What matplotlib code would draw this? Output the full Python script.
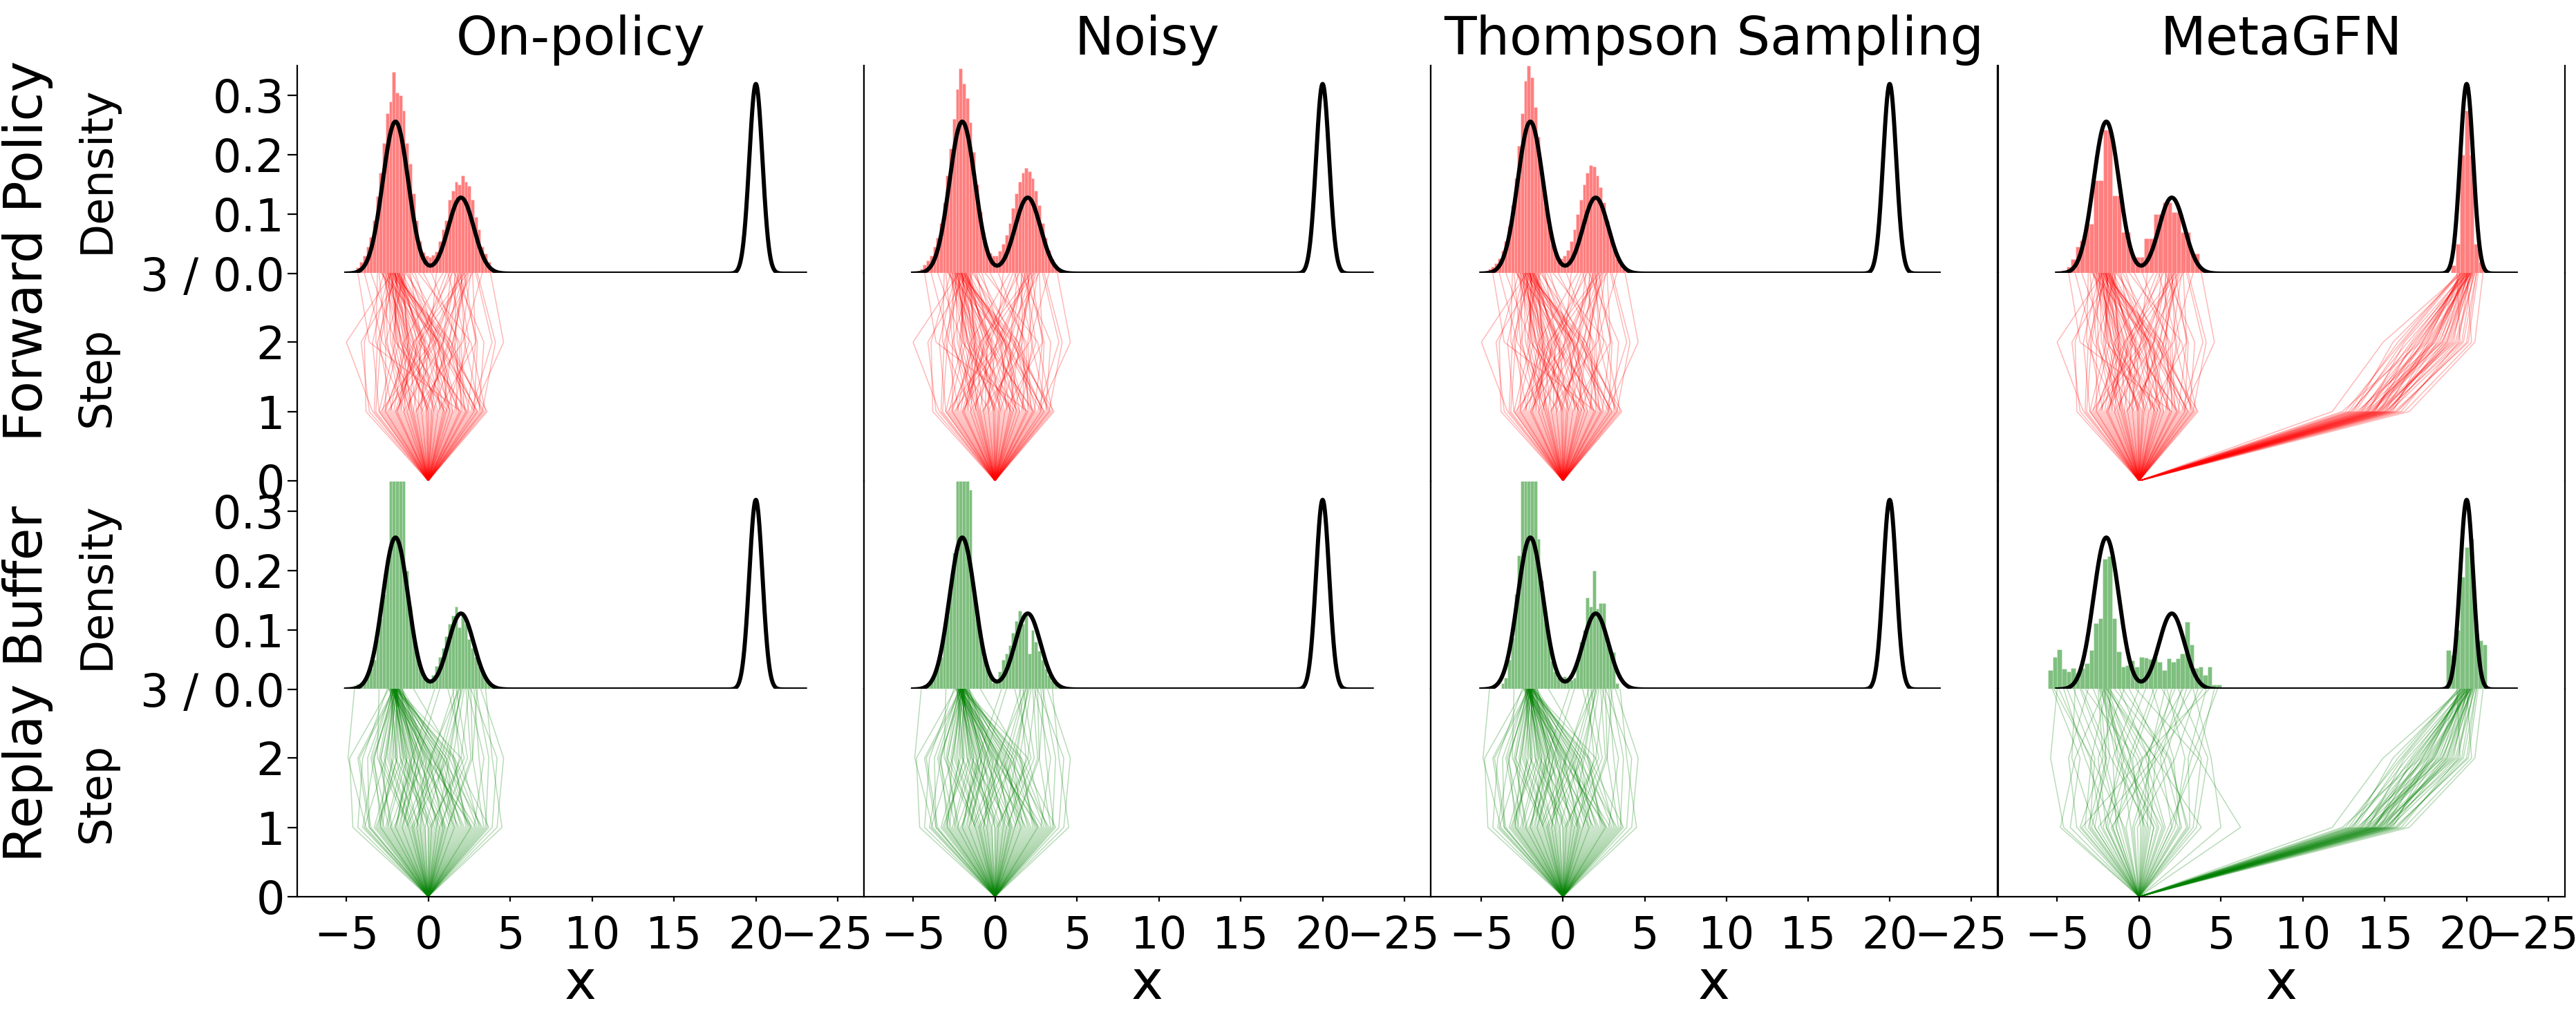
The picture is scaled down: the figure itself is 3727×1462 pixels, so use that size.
import matplotlib
matplotlib.use('Agg')
import matplotlib.pyplot as plt
import matplotlib.transforms as mtransforms
import numpy as np

COLUMNS = ['On-policy', 'Noisy', 'Thompson Sampling', 'MetaGFN']
ROWS = ['Forward Policy', 'Replay Buffer']

# target mixture drawn as the black curve
TARGET_MEANS = [-2.0, 2.0, 20.0]
TARGET_SDS = [0.78, 0.78, 0.40]
TARGET_WEIGHTS = [0.50, 0.25, 0.32]
TARGET_RANGE = (-5.0, 23.0)

X_TICKS = [-5, 0, 5, 10, 15, 20, 25]
X_TICK_LABELS = ['\u22125', '0', '5', '10', '15', '20', '\u221225']
XLIMS = [(-8.0, 26.6), (-8.0, 26.6), (-8.1, 26.6), (-8.6, 26.0)]

# ---- histograms (first bin edge, bin width, heights) ----
FINE_BIN_W = 0.2
fwd_onpolicy_start = -4.6
fwd_onpolicy = [0.003, 0.01, 0.02, 0.03, 0.045, 0.062, 0.09, 0.13, 0.17, 0.22,
                0.27, 0.29, 0.34, 0.305, 0.30, 0.275, 0.22, 0.185, 0.135, 0.09,
                0.055, 0.036, 0.03, 0.028, 0.031, 0.037, 0.055, 0.075, 0.09, 0.125,
                0.14, 0.155, 0.15, 0.165, 0.155, 0.148, 0.125, 0.095, 0.075, 0.045,
                0.034, 0.02, 0.01]
fwd_noisy_start = -5.0
fwd_noisy = [0.002, 0.004, 0.008, 0.015, 0.022, 0.03, 0.045, 0.06, 0.085, 0.12,
             0.165, 0.21, 0.26, 0.31, 0.345, 0.32, 0.295, 0.255, 0.205, 0.15,
             0.105, 0.07, 0.045, 0.035, 0.03, 0.03, 0.038, 0.05, 0.065, 0.085,
             0.11, 0.135, 0.155, 0.17, 0.178, 0.172, 0.16, 0.14, 0.115, 0.085,
             0.06, 0.04, 0.025, 0.015, 0.008, 0.004, 0.002]
fwd_thompson_start = -5.0
fwd_thompson = [0.003, 0.005, 0.008, 0.012, 0.018, 0.026, 0.038, 0.055, 0.08, 0.115,
                0.16, 0.215, 0.27, 0.325, 0.35, 0.33, 0.28, 0.23, 0.17, 0.12,
                0.08, 0.05, 0.035, 0.028, 0.026, 0.03, 0.04, 0.055, 0.075, 0.1,
                0.125, 0.15, 0.17, 0.182, 0.18, 0.165, 0.145, 0.12, 0.09, 0.065,
                0.042, 0.026, 0.015, 0.008, 0.004, 0.002, 0.001]
rep_onpolicy_start = -5.2
rep_onpolicy = [0.003, 0.003, 0.005, 0.007, 0.009, 0.012, 0.015, 0.024, 0.035, 0.05,
                0.085, 0.12, 0.16, 0.22, 0.45, 0.5, 0.48, 0.42, 0.36, 0.2,
                0.14, 0.09, 0.06, 0.04, 0.025, 0.015, 0.015, 0.025, 0.04, 0.055,
                0.07, 0.09, 0.11, 0.125, 0.14, 0.105, 0.125, 0.11, 0.085, 0.07,
                0.055, 0.04, 0.03, 0.02, 0.012, 0.006]
rep_noisy_start = -5.2
rep_noisy = [0.002, 0.003, 0.004, 0.006, 0.008, 0.011, 0.016, 0.025, 0.038, 0.055,
             0.09, 0.125, 0.17, 0.23, 0.46, 0.52, 0.47, 0.40, 0.336, 0.17,
             0.12, 0.085, 0.055, 0.035, 0.022, 0.012, 0.015, 0.03, 0.05, 0.06,
             0.075, 0.095, 0.115, 0.133, 0.11, 0.124, 0.061, 0.1, 0.08, 0.065,
             0.05, 0.035, 0.025, 0.015, 0.009, 0.005]
rep_thompson_start = -3.8
rep_thompson = [0.01, 0.02, 0.05, 0.087, 0.16, 0.225, 0.45, 0.5, 0.47, 0.44,
                0.4, 0.253, 0.184, 0.12, 0.087, 0.048, 0.03, 0.02, 0.018, 0.022,
                0.02, 0.016, 0.02, 0.05, 0.08, 0.1, 0.155, 0.14, 0.2, 0.136,
                0.145, 0.145, 0.087, 0.063, 0.063, 0.01]

META_FWD_BIN_W = 0.28
meta_fwd_left_start = -5.0
meta_fwd_left = [0.003, 0.006, 0.012, 0.025, 0.045, 0.056, 0.084, 0.084, 0.157, 0.157,
                 0.242, 0.242, 0.131, 0.131, 0.07, 0.07, 0.031, 0.028, 0.028, 0.059,
                 0.059, 0.10, 0.10, 0.12, 0.12, 0.104, 0.104, 0.07, 0.07, 0.034,
                 0.034, 0.008, 0.004]
meta_fwd_right_start = 19.04
meta_fwd_right = [0.014, 0.05, 0.2, 0.274, 0.2, 0.05, 0.02]

META_REP_BIN_W = 0.278
meta_rep_left_start = -5.55
meta_rep_left = [0.032, 0.055, 0.068, 0.035, 0.030, 0.036, 0.028, 0.036, 0.044, 0.066,
                 0.112, 0.12, 0.22, 0.224, 0.12, 0.064, 0.038, 0.041, 0.049, 0.038,
                 0.055, 0.053, 0.051, 0.055, 0.047, 0.032, 0.052, 0.047, 0.052, 0.061,
                 0.114, 0.076, 0.036, 0.038, 0.025, 0.038, 0.008, 0.008]
meta_rep_right_start = 18.75
meta_rep_right = [0.066, 0.058, 0.10, 0.19, 0.24, 0.254, 0.11, 0.083, 0.076]

# ---- sampled trajectories: x after step 1, 2, 3 (all start at x=0) ----
fwd_step1 = [-3.2, -2.5, -1.8, -1.1, -0.4, 0.3, 1.0, 1.7, 2.4, 3.1,
             -2.9, -2.1, -1.4, -0.7, 0.1, 0.8, 1.5, 2.2, 2.9, 3.5,
             -3.6, -2.7, -1.6, -0.9, -0.2, 0.5, 1.2, 1.9, 2.6, 3.3,
             -3.0, -2.3, -1.2, -0.5, 0.2, 0.9, 1.6, 2.3, 3.0, -1.9,
             -2.6, -1.5, -0.8, 0.0, 0.7, 1.4, 2.1, 2.8, -0.3, 1.1,
             -3.4, -2.0, -1.0, -0.1, 0.6, 1.3, 2.0, 2.7, 3.4, -1.3,
             -3.0, -2.2, -1.5, -0.6, 0.4, 1.1, 1.9, 2.5, 3.2, -3.8,
             -2.4, -1.7, -0.9, -0.1, 0.6, 1.3, 2.0, 2.8, 3.6, -1.1,
             -2.8, -2.0, -1.3, -0.4, 0.3, 1.0, 1.8, 2.4, 3.0, -0.7,
             -3.3, -1.9, -1.0, 0.2, 0.9, 1.5, 2.3, 3.3, -2.6, 0.0]
fwd_step2 = [-2.9, 0.4, -1.2, -2.3, 1.5, -0.3, -1.6, 1.8, -0.6, 3.4,
             0.2, -1.4, -3.2, 0.9, -1.7, -0.2, 0.8, 2.0, 1.1, 2.6,
             -4.1, -0.9, -2.5, -0.4, 1.3, -1.3, -2.0, 0.6, 3.9, 1.4,
             -3.4, -1.5, -0.7, 0.1, -1.9, 0.3, 2.3, -0.4, 0.7, -0.6,
             -2.6, -1.1, 2.1, -1.5, 0.4, -1.2, 1.6, 0.5, -2.8, 0.9,
             -5.0, -0.8, -2.1, -0.9, 2.9, 0.6, -3.6, 4.6, 1.2, 0.1,
             -2.0, -3.0, 0.9, -0.5, -1.4, 2.5, -0.1, 1.4, 2.2, -3.9,
             -0.3, -0.9, -1.9, 1.2, -0.8, 0.2, 1.9, 3.0, 1.0, -2.6,
             -1.8, 0.5, -2.2, -0.2, 1.7, -1.0, 0.4, 2.9, 0.6, -1.3,
             -3.1, -0.5, -1.6, 0.7, 1.5, -0.4, 1.2, 4.1, -1.2, -1.7]
fwd_step3 = [-2.1, 1.9, -1.6, -2.4, 2.3, -1.9, -2.8, 0.2, -2.2, 1.6,
             2.1, -1.8, -3.1, 1.4, -2.0, -2.5, -1.3, 2.6, -2.3, -0.6,
             -1.7, 2.2, -2.6, -1.1, 1.8, -2.0, -3.5, -1.9, 2.9, -2.2,
             -2.4, 0.9, -1.5, 2.0, -2.7, -2.1, 1.2, -1.8, -2.9, 2.4,
             -1.4, -2.3, 3.3, -2.0, -1.2, -2.6, 2.1, -0.8, -3.9, 1.7,
             -2.2, 1.5, -1.9, -2.5, 2.7, -1.6, -4.3, 3.8, -2.1, 0.5,
             -2.0, -2.3, 2.2, -1.7, -2.5, 1.8, -2.1, -1.4, 2.0, -2.7,
             1.3, -1.9, -2.2, 2.5, -2.4, -1.8, -0.3, 1.9, -2.0, -3.0,
             -2.3, 2.7, -1.6, -2.1, 1.6, -2.8, -1.9, 2.2, -2.4, -1.5,
             -2.0, 1.1, -2.6, -1.8, 2.4, -2.2, -1.0, 3.0, -1.7, -2.3]

rep_step1 = [-4.0, -3.1, -2.2, -1.3, -0.5, 0.4, 1.2, 2.1, 3.0, 3.9,
             -3.5, -2.6, -1.7, -0.9, 0.0, 0.8, 1.6, 2.5, 3.4, -4.6,
             -2.9, -2.0, -1.1, -0.2, 0.6, 1.4, 2.3, 3.2, -3.8, -0.7,
             -3.3, -2.4, -1.5, -0.6, 0.2, 1.0, 1.8, 2.7, 4.5, -1.9,
             -2.8, -1.6, -0.8, 0.1, 0.9, 1.7, 2.6, 3.6, -0.3, 1.3,
             -3.6, -2.3, -1.2, -0.4, 0.5, 1.1, 2.0, 2.9, -1.0, 0.7,
             -3.9, -2.7, -1.8, -0.9, 0.0, 0.9, 1.9, 2.8, 3.7, -4.3,
             -3.2, -2.3, -1.4, -0.5, 0.5, 1.5, 2.4, 3.3, -2.0, 0.2,
             -3.6, -2.5, -1.6, -0.7, 0.3, 1.2, 2.2, 3.1, 4.2, -1.2,
             -3.0, -2.1, -1.0, -0.2, 0.7, 1.6, 2.6, 3.5, -2.9, 1.0]
rep_step2 = [-3.3, -1.9, -3.0, 0.6, 0.2, -1.2, 2.6, 0.4, 1.3, 4.2,
             -4.2, -1.5, -1.0, -2.4, -0.7, 1.9, -0.2, 0.9, 2.7, -4.8,
             -2.6, -1.0, -2.9, 1.0, -0.5, 0.3, 1.6, 1.5, -4.9, 0.1,
             -2.1, -3.4, -0.6, -1.7, 2.0, -0.9, 0.5, -0.1, 3.9, -1.3,
             -2.2, -0.4, -2.0, 2.2, -1.4, 1.1, 0.0, 3.1, -0.9, -0.3,
             -3.7, -0.8, -3.1, -1.1, 1.3, -0.6, 0.8, 0.2, -2.5, 2.4,
             -2.6, -3.5, -0.8, 1.2, -1.4, 0.1, -0.5, 3.4, 1.6, -4.0,
             -1.6, -2.9, 0.2, -2.3, -0.4, 0.6, 1.5, 0.9, -1.1, -2.0,
             -4.3, -1.3, -0.6, -0.1, -1.7, 2.7, 0.3, 2.0, 4.6, -2.7,
             -1.9, -0.2, 0.8, -1.5, -0.9, 0.7, 1.1, 3.7, -3.3, 0.0]
rep_step3 = [-2.1, -1.9, -2.2, 1.8, -1.7, -2.0, 2.3, -2.3, -1.8, 2.6,
             -2.0, -2.1, 0.4, -1.9, -2.2, 1.5, -2.0, -1.6, 3.0, -2.4,
             -1.9, -2.1, -2.0, 2.1, -1.8, -2.2, -0.9, -2.0, -4.5, 1.9,
             -2.3, -1.9, -2.1, -2.0, 2.5, -1.7, -2.1, -2.2, 3.5, -2.0,
             -1.8, -2.0, -2.2, 1.2, -2.1, -1.9, -2.3, 2.8, -2.0, -1.6,
             -2.2, -1.8, -3.0, -2.1, 2.0, -2.0, -1.9, -2.4, -2.1, 1.7,
             -2.0, -2.2, -1.9, 2.0, -2.1, -1.8, -2.3, 2.4, -2.0, -2.5,
             -1.9, -2.1, 1.6, -2.0, -2.2, -1.7, 2.2, -2.0, -2.4, -1.9,
             -2.1, -2.0, 0.7, -1.8, -2.2, 2.6, -2.1, -1.9, 3.2, -2.0,
             -2.3, -1.9, 1.9, -2.1, -2.0, -2.2, -1.8, 2.9, -2.1, -1.6]

meta_rep_step1 = [-4.2, -3.3, -2.5, -1.6, -0.8, 0.1, 0.9, 1.8, 2.6, 3.5,
                  -3.8, -2.9, -2.0, -1.2, -0.3, 0.5, 1.4, 2.2, 3.1, 6.2,
                  -4.6, -3.6, -2.7, -1.9, -1.0, -0.1, 0.7, 1.6, 2.4, 3.3,
                  -3.0, -2.2, -1.4, -0.5, 0.3, 1.2, 2.0, 2.9, -1.7, 0.9,
                  -4.8, -3.5, -2.3, -1.4, -0.4, 0.6, 1.5, 2.5, 3.8, 5.0,
                  -3.1, -2.0, -0.9, 0.2, 1.1, 2.0, 3.0, -1.6, 0.4, -2.7]
meta_rep_step2 = [-3.6, -2.9, 0.9, -3.3, 0.2, -0.4, -0.8, 3.6, 1.5, 4.2,
                  -4.3, -1.8, -1.2, -2.3, 1.6, 0.6, -0.9, 2.8, 3.0, 3.6,
                  -5.4, -2.2, -2.0, -0.6, -2.1, 2.2, 1.0, 0.4, 0.6, 3.8,
                  -2.7, -0.9, -1.6, -1.1, -0.5, -0.2, 1.3, 1.9, 1.1, -1.3,
                  -3.9, 0.2, -3.0, -0.5, 0.9, -1.7, 0.0, 2.1, 1.0, 4.4,
                  -2.0, -2.5, -2.9, 0.6, -1.0, 3.2, 1.8, 0.3, -1.4, -4.1]
meta_rep_step3 = [-5.3, -2.0, 3.2, -4.6, -1.8, 1.1, -2.2, 4.6, -0.6, 2.4,
                  -3.1, -2.1, 0.4, -4.0, 2.9, -1.9, -2.3, 1.7, 4.1, -0.2,
                  -5.0, -2.5, -3.6, 0.9, -1.7, 3.6, -2.0, 2.2, -1.2, 1.4,
                  -4.4, -2.4, 0.0, -2.8, -2.1, -3.3, 2.6, -1.0, 3.9, -1.9,
                  -2.1, 4.3, -4.9, -1.9, 2.0, -3.5, -2.2, 0.8, -1.8, 3.3,
                  -2.4, -0.9, -5.2, 1.6, -2.0, 4.8, -1.5, 2.7, -2.3, -3.9]

far_step1 = [12.4, 13.0, 13.3, 13.6, 13.9, 14.1, 14.3, 14.5, 14.7, 14.9,
             15.1, 15.3, 15.5, 15.8, 16.2, 12.8, 13.5, 14.0, 14.4, 14.8,
             15.2, 15.6, 13.2, 13.8, 14.6, 15.0, 15.4, 16.5, 11.8, 14.2,
             12.9, 13.4, 13.7, 14.0, 14.2, 14.4, 14.6, 14.8, 15.0, 15.3,
             13.1, 13.9, 14.3, 14.7, 15.1, 15.7, 12.6, 14.5, 13.6, 16.0]
far_step2 = [17.2, 16.4, 18.1, 17.6, 16.9, 18.5, 17.9, 19.1, 17.3, 18.8,
             19.4, 18.2, 17.7, 19.8, 20.3, 15.8, 17.0, 18.4, 16.7, 19.0,
             18.6, 20.1, 16.1, 17.4, 18.0, 19.6, 18.9, 20.5, 14.9, 17.8,
             16.8, 17.5, 18.3, 16.2, 18.7, 17.1, 19.3, 18.0, 17.6, 19.7,
             15.5, 18.5, 17.3, 19.2, 18.8, 20.0, 16.0, 17.9, 16.6, 19.5]
far_step3 = [19.8, 20.1, 19.6, 20.2, 19.9, 20.4, 20.0, 20.3, 19.7, 20.1,
             20.5, 19.9, 20.2, 20.6, 20.0, 19.5, 20.3, 19.8, 20.1, 20.4,
             19.9, 20.7, 19.6, 20.0, 20.2, 19.4, 20.3, 21.0, 19.7, 20.1,
             20.0, 19.7, 20.2, 19.9, 20.3, 19.8, 20.5, 20.1, 19.6, 20.4,
             19.7, 20.2, 19.9, 20.0, 20.3, 20.6, 19.5, 20.1, 19.8, 20.2]

W, H = 3727, 1462
COL_LEFT = [430, 1250, 2070, 2891]
COL_W = 820
ROW_TOP = [95, 395, 697, 997]
ROW_H = 301
LAST_LABEL_SHIFT = [-16, -16, -16, -24]   # px, last x tick label sits left of its tick

fwd_hists = [[(fwd_onpolicy_start, FINE_BIN_W, fwd_onpolicy)],
             [(fwd_noisy_start, FINE_BIN_W, fwd_noisy)],
             [(fwd_thompson_start, FINE_BIN_W, fwd_thompson)],
             [(meta_fwd_left_start, META_FWD_BIN_W, meta_fwd_left),
              (meta_fwd_right_start, META_FWD_BIN_W, meta_fwd_right)]]
rep_hists = [[(rep_onpolicy_start, FINE_BIN_W, rep_onpolicy)],
             [(rep_noisy_start, FINE_BIN_W, rep_noisy)],
             [(rep_thompson_start, FINE_BIN_W, rep_thompson)],
             [(meta_rep_left_start, META_REP_BIN_W, meta_rep_left),
              (meta_rep_right_start, META_REP_BIN_W, meta_rep_right)]]
fwd_trajs = [[(fwd_step1, fwd_step2, fwd_step3)]] * 3 + \
            [[(fwd_step1, fwd_step2, fwd_step3), (far_step1, far_step2, far_step3)]]
rep_trajs = [[(rep_step1, rep_step2, rep_step3)]] * 3 + \
            [[(meta_rep_step1, meta_rep_step2, meta_rep_step3), (far_step1, far_step2, far_step3)]]

grid_x = np.linspace(TARGET_RANGE[0], TARGET_RANGE[1], 3000)
target = np.zeros_like(grid_x)
for m, s, w in zip(TARGET_MEANS, TARGET_SDS, TARGET_WEIGHTS):
    target += w * np.exp(-0.5 * ((grid_x - m) / s) ** 2) / (s * np.sqrt(2 * np.pi))

fig = plt.figure(figsize=(W / 100, H / 100), dpi=100)


def add_axes(x, y, w, h):
    return fig.add_axes([x / W, 1 - (y + h) / H, w / W, h / H])


def style(ax, bottom=False):
    ax.spines['top'].set_visible(False)
    ax.spines['bottom'].set_visible(bottom)
    for s in ['left', 'right', 'bottom']:
        ax.spines[s].set_linewidth(1.6)
    ax.tick_params(axis='y', length=10, width=1.6, pad=3, labelsize=47)
    ax.tick_params(axis='x', length=5, width=1.6, pad=14, labelsize=46)


for c, name in enumerate(COLUMNS):
    for r in range(2):
        color = 'red' if r == 0 else 'green'
        hists = fwd_hists[c] if r == 0 else rep_hists[c]
        trajs = fwd_trajs[c] if r == 0 else rep_trajs[c]

        ax_d = add_axes(COL_LEFT[c], ROW_TOP[2 * r], COL_W, ROW_H)
        ax_s = add_axes(COL_LEFT[c], ROW_TOP[2 * r + 1], COL_W, ROW_H)

        # density panel
        for start, bw, heights in hists:
            edges = start + bw * np.arange(len(heights))
            ax_d.bar(edges, heights, width=bw, align='edge', color=color,
                     alpha=0.5, edgecolor='white', linewidth=0.4)
        ax_d.plot(grid_x, target, color='black', lw=4.3)
        ax_d.set_xlim(XLIMS[c])
        ax_d.set_ylim(0, 0.35)
        style(ax_d)
        ax_d.set_xticks([])

        # trajectory panel
        for s1, s2, s3 in trajs:
            for a, b, d in zip(s1, s2, s3):
                ax_s.plot([0, a, b, d], [0, 1, 2, 3], color=color, alpha=0.28, lw=1.1)
        ax_s.set_xlim(XLIMS[c])
        ax_s.set_ylim(0, 3)
        style(ax_s, bottom=(r == 1))

        if r == 1:
            ax_s.set_xticks(X_TICKS)
            ax_s.set_xticklabels(X_TICK_LABELS)
            shift = mtransforms.ScaledTranslation(LAST_LABEL_SHIFT[c] / 100, 0,
                                                  fig.dpi_scale_trans)
            last = ax_s.get_xticklabels()[-1]
            last.set_transform(last.get_transform() + shift)
            ax_s.set_xlabel('x', fontsize=56, labelpad=0)
        else:
            ax_s.set_xticks([])

        if c == 0:
            ax_d.set_yticks([0, 0.1, 0.2, 0.3])
            ax_d.set_yticklabels(['3 / 0.0', '0.1', '0.2', '0.3'])
            ax_s.set_yticks([0, 1, 2])
            ax_d.set_ylabel('Density', fontsize=46)
            ax_s.set_ylabel('Step', fontsize=46)
            ax_d.yaxis.set_label_coords(-0.316, 0.5)
            ax_s.yaxis.set_label_coords(-0.316, 0.5)
        else:
            ax_d.set_yticks([])
            ax_s.set_yticks([])

        if r == 0:
            ax_d.set_title(name, fontsize=55, pad=8)

fig.text(40 / W, 1 - 363 / H, ROWS[0], rotation=90, ha='center', va='center', fontsize=55)
fig.text(40 / W, 1 - 990 / H, ROWS[1], rotation=90, ha='center', va='center', fontsize=55)

fig.savefig('out.png', dpi=100)
